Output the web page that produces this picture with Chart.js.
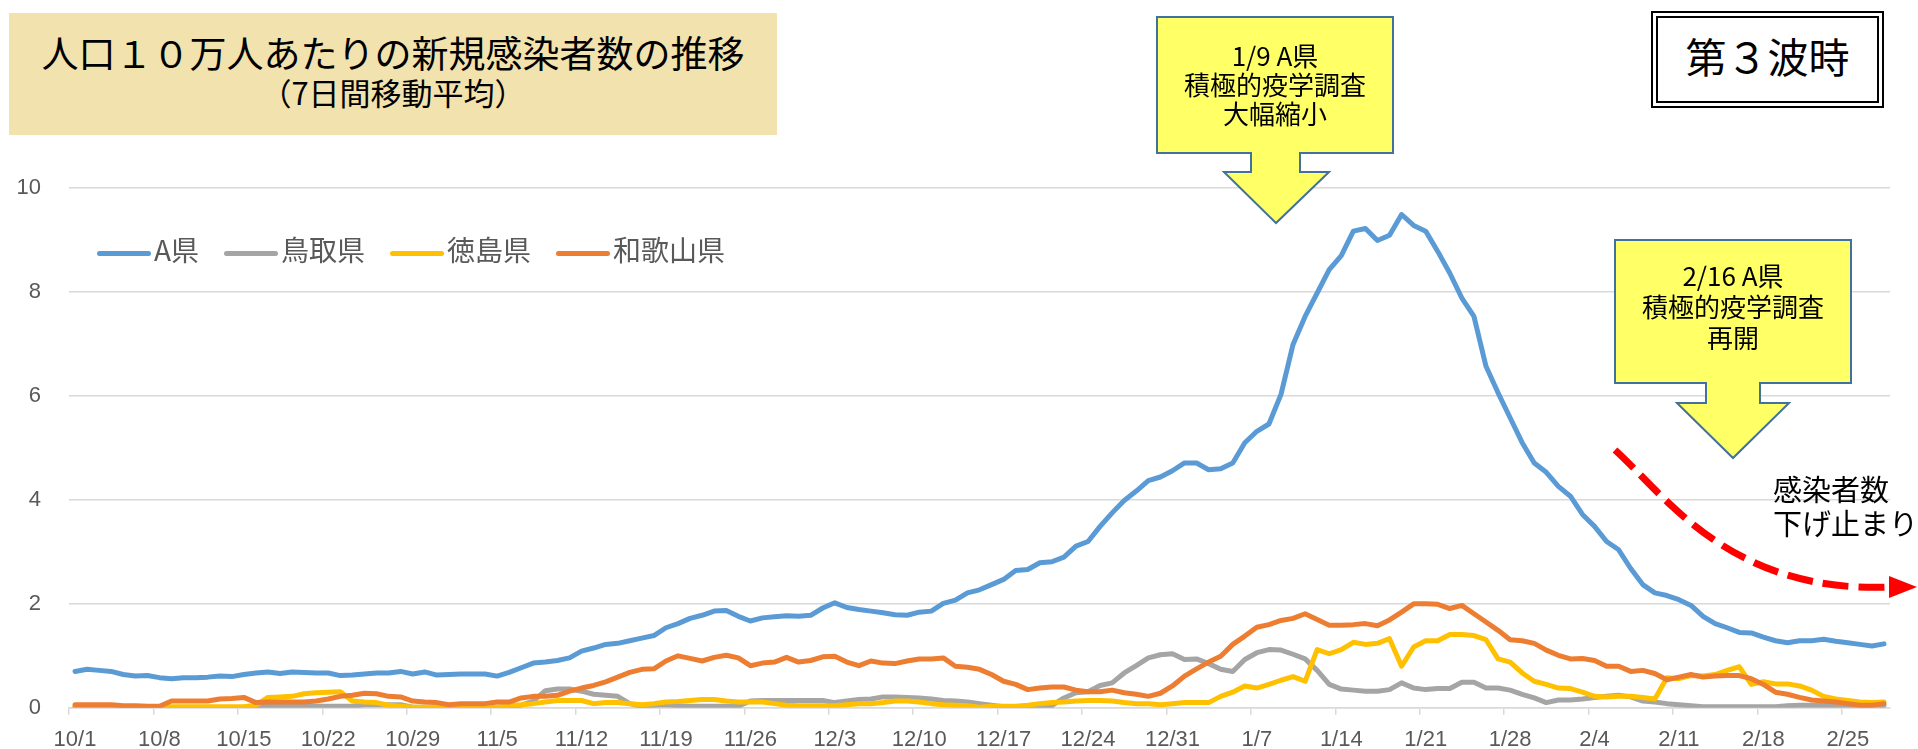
<!DOCTYPE html>
<html lang="ja">
<head>
<meta charset="utf-8">
<title>人口10万人あたりの新規感染者数の推移</title>
<script src="https://cdn.jsdelivr.net/npm/chart.js@4.4.1/dist/chart.umd.min.js"></script>
<style>
  html, body { margin: 0; padding: 0; background: #fff; }
  body { width: 1918px; height: 749px; position: relative; overflow: hidden;
         font-family: "Noto Sans CJK JP", sans-serif; color: #000; }
  #chart { position: absolute; left: 0; top: 0; }
  .abs { position: absolute; }
  #title-box { left: 9px; top: 13px; width: 768px; height: 122px; background: #F2E2AE; }
  #title-box .t1 { position: absolute; left: 0; width: 100%; top: 21px; text-align: center;
                   font-size: 37px; line-height: 37px; }
  #title-box .t2 { position: absolute; left: 0; width: 100%; top: 63px; text-align: center;
                   font-size: 31px; line-height: 31px; }
  #wave-box { left: 1651px; top: 11px; width: 233px; height: 97px; box-sizing: border-box;
              border: 7px double #000; background: #fff; text-align: center;
              font-size: 41px; line-height: 41px; padding-top: 17px; }
  .callout { text-align: center; font-size: 26px; width: 236px; }
  #legend { left: 97px; top: 234px; display: flex; align-items: center; height: 30px; }
  #legend .item { display: flex; align-items: center; margin-right: 25px; }
  #legend .swatch { display: inline-block; width: 54px; height: 5px; border-radius: 3px;
                    margin-right: 3px; position: relative; top: 4px; }
  #legend .name { font-size: 28px; line-height: 30px; color: #595959; }
  #note { left: 1773px; top: 471px; font-size: 29px; line-height: 34px; white-space: nowrap; }
  svg { position: absolute; left: 0; top: 0; }
</style>
</head>
<body>
<canvas id="chart" width="1918" height="749"></canvas>

<svg width="1918" height="749">
  <!-- 1/9 のコールアウト -->
  <polygon points="1157,17 1393,17 1393,153 1300,153 1300,172 1329,172 1276,223 1224,172 1251,172 1251,153 1157,153"
           fill="#FFFF66" stroke="#41719C" stroke-width="2"/>
  <!-- 2/16 のコールアウト -->
  <polygon points="1615,240 1851,240 1851,383 1760,383 1760,403 1789,403 1733,458 1677,403 1706,403 1706,383 1615,383"
           fill="#FFFF66" stroke="#41719C" stroke-width="2"/>
  <!-- 赤い点線の矢印 -->
  <path d="M1615,450 C1665,495 1730,594 1890,587" fill="none" stroke="#FF0000"
        stroke-width="7" stroke-dasharray="26,10"/>
  <polygon points="1889,576 1917,587 1889,598" fill="#FF0000"/>
</svg>

<div id="title-box" class="abs">
  <div class="t1">人口１０万人あたりの新規感染者数の推移</div>
  <div class="t2">（7日間移動平均）</div>
</div>
<div id="wave-box" class="abs">第３波時</div>
<div class="abs callout" style="left:1157px; top:40px; line-height:29px;">1/9 A県<br>積極的疫学調査<br>大幅縮小</div>
<div class="abs callout" style="left:1615px; top:259px; line-height:31px;">2/16 A県<br>積極的疫学調査<br>再開</div>
<div id="note" class="abs">感染者数<br>下げ止まり</div>
<div id="legend" class="abs"></div>

<script>
// 系列名と色
const seriesNames = ['A県', '鳥取県', '徳島県', '和歌山県'];
const seriesColors = ['#5B9BD5', '#A5A5A5', '#FFC000', '#ED7D31'];

// 軸に表示する日付（7日ごと）
const tickLabels = ['10/1', '10/8', '10/15', '10/22', '10/29', '11/5', '11/12', '11/19', '11/26',
  '12/3', '12/10', '12/17', '12/24', '12/31', '1/7', '1/14', '1/21', '1/28', '2/4', '2/11', '2/18', '2/25'];

// 10/1 〜 2/28 の日付（カテゴリ）
const monthDays = [[10, 31], [11, 30], [12, 31], [1, 31], [2, 28]];
const days = [];
monthDays.forEach(([m, n]) => { for (let d = 1; d <= n; d++) days.push(m + '/' + d); });

// 人口10万人あたり新規感染者数（7日間移動平均）
const prefA = [
  0.70, 0.74, 0.72, 0.70, 0.64, 0.61, 0.62, 0.58, 0.56, 0.58,
  0.58, 0.59, 0.61, 0.60, 0.64, 0.67, 0.69, 0.66, 0.69, 0.68,
  0.67, 0.67, 0.62, 0.63, 0.65, 0.67, 0.67, 0.70, 0.65, 0.69,
  0.63, 0.64, 0.65, 0.65, 0.65, 0.61, 0.68, 0.77, 0.86, 0.88,
  0.91, 0.96, 1.09, 1.15, 1.22, 1.24, 1.29, 1.34, 1.39, 1.54,
  1.62, 1.72, 1.78, 1.86, 1.87, 1.76, 1.67, 1.73, 1.75, 1.77,
  1.76, 1.78, 1.92, 2.02, 1.93, 1.89, 1.86, 1.83, 1.79, 1.78,
  1.84, 1.86, 2.01, 2.07, 2.21, 2.27, 2.37, 2.47, 2.64, 2.66,
  2.79, 2.81, 2.90, 3.11, 3.20, 3.49, 3.75, 3.99, 4.17, 4.37,
  4.44, 4.56, 4.71, 4.71, 4.58, 4.60, 4.71, 5.10, 5.32, 5.46,
  6.03, 6.99, 7.53, 7.98, 8.43, 8.70, 9.17, 9.22, 8.99, 9.09,
  9.49, 9.28, 9.17, 8.78, 8.36, 7.88, 7.53, 6.57, 6.06, 5.58,
  5.10, 4.71, 4.53, 4.26, 4.07, 3.72, 3.49, 3.20, 3.04, 2.68,
  2.37, 2.21, 2.16, 2.08, 1.97, 1.76, 1.62, 1.54, 1.45, 1.44,
  1.36, 1.29, 1.25, 1.29, 1.29, 1.32, 1.28, 1.25, 1.22, 1.19,
  1.23
];
const tottori = [
  0.02, 0.02, 0.02, 0.02, 0.02, 0.02, 0.02, 0.02, 0.00, 0.00,
  0.00, 0.00, 0.00, 0.00, 0.00, 0.03, 0.03, 0.03, 0.03, 0.03,
  0.03, 0.03, 0.03, 0.03, 0.06, 0.06, 0.06, 0.06, 0.01, 0.01,
  0.01, 0.01, 0.01, 0.01, 0.01, 0.01, 0.03, 0.05, 0.13, 0.33,
  0.36, 0.36, 0.32, 0.26, 0.24, 0.22, 0.08, 0.03, 0.05, 0.06,
  0.04, 0.03, 0.03, 0.03, 0.03, 0.03, 0.13, 0.14, 0.14, 0.14,
  0.14, 0.14, 0.14, 0.10, 0.13, 0.16, 0.17, 0.21, 0.21, 0.20,
  0.19, 0.17, 0.14, 0.13, 0.11, 0.08, 0.05, 0.02, 0.02, 0.02,
  0.02, 0.04, 0.19, 0.29, 0.31, 0.43, 0.48, 0.67, 0.81, 0.96,
  1.02, 1.04, 0.93, 0.94, 0.85, 0.74, 0.70, 0.93, 1.06, 1.12,
  1.11, 1.03, 0.94, 0.72, 0.45, 0.36, 0.34, 0.32, 0.32, 0.35,
  0.48, 0.38, 0.35, 0.37, 0.37, 0.49, 0.49, 0.38, 0.38, 0.34,
  0.26, 0.19, 0.10, 0.15, 0.15, 0.17, 0.20, 0.22, 0.24, 0.21,
  0.13, 0.11, 0.08, 0.06, 0.04, 0.02, 0.02, 0.02, 0.02, 0.02,
  0.02, 0.02, 0.04, 0.05, 0.05, 0.05, 0.05, 0.05, 0.05, 0.05,
  0.05
];
const tokushima = [
  0.02, 0.02, 0.02, 0.02, 0.02, 0.02, 0.02, 0.02, 0.02, 0.02,
  0.02, 0.02, 0.02, 0.02, 0.02, 0.05, 0.20, 0.21, 0.22, 0.27,
  0.29, 0.30, 0.31, 0.13, 0.11, 0.10, 0.05, 0.03, 0.01, 0.01,
  0.01, 0.01, 0.01, 0.01, 0.01, 0.01, 0.05, 0.06, 0.08, 0.11,
  0.14, 0.14, 0.14, 0.08, 0.10, 0.10, 0.08, 0.06, 0.08, 0.11,
  0.12, 0.14, 0.16, 0.16, 0.13, 0.11, 0.11, 0.11, 0.08, 0.05,
  0.04, 0.04, 0.04, 0.04, 0.06, 0.08, 0.08, 0.10, 0.13, 0.13,
  0.11, 0.08, 0.06, 0.05, 0.04, 0.01, 0.03, 0.03, 0.03, 0.05,
  0.08, 0.10, 0.11, 0.13, 0.14, 0.14, 0.13, 0.10, 0.08, 0.08,
  0.06, 0.08, 0.10, 0.10, 0.10, 0.22, 0.30, 0.42, 0.38, 0.45,
  0.53, 0.60, 0.51, 1.12, 1.04, 1.12, 1.26, 1.22, 1.24, 1.33,
  0.80, 1.17, 1.29, 1.29, 1.41, 1.41, 1.39, 1.31, 0.94, 0.88,
  0.67, 0.51, 0.45, 0.38, 0.37, 0.30, 0.22, 0.21, 0.22, 0.22,
  0.20, 0.17, 0.58, 0.56, 0.62, 0.61, 0.64, 0.72, 0.79, 0.45,
  0.50, 0.46, 0.46, 0.42, 0.34, 0.22, 0.17, 0.14, 0.11, 0.10,
  0.11
];
const wakayama = [
  0.06, 0.06, 0.06, 0.06, 0.04, 0.04, 0.03, 0.03, 0.13, 0.13,
  0.13, 0.13, 0.17, 0.18, 0.20, 0.10, 0.11, 0.11, 0.11, 0.11,
  0.13, 0.17, 0.22, 0.24, 0.28, 0.27, 0.22, 0.21, 0.13, 0.11,
  0.10, 0.06, 0.08, 0.08, 0.08, 0.11, 0.11, 0.19, 0.22, 0.22,
  0.24, 0.32, 0.38, 0.43, 0.50, 0.59, 0.68, 0.74, 0.75, 0.90,
  1.00, 0.95, 0.90, 0.97, 1.01, 0.96, 0.81, 0.86, 0.88, 0.97,
  0.88, 0.91, 0.98, 0.99, 0.88, 0.81, 0.90, 0.86, 0.85, 0.90,
  0.94, 0.94, 0.96, 0.80, 0.78, 0.74, 0.64, 0.51, 0.45, 0.35,
  0.38, 0.40, 0.40, 0.34, 0.31, 0.31, 0.34, 0.29, 0.26, 0.22,
  0.28, 0.42, 0.61, 0.75, 0.88, 0.99, 1.22, 1.38, 1.55, 1.60,
  1.68, 1.72, 1.81, 1.70, 1.59, 1.59, 1.60, 1.62, 1.58, 1.69,
  1.84, 2.00, 2.00, 1.99, 1.91, 1.97, 1.81, 1.65, 1.49, 1.31,
  1.29, 1.24, 1.11, 1.01, 0.94, 0.95, 0.91, 0.80, 0.80, 0.70,
  0.72, 0.66, 0.54, 0.59, 0.64, 0.59, 0.61, 0.62, 0.62, 0.56,
  0.45, 0.30, 0.26, 0.20, 0.15, 0.13, 0.11, 0.08, 0.05, 0.05,
  0.08
];
const seriesValues = [prefA, tottori, tokushima, wakayama];

// 凡例（グラフ内左上）
const legendEl = document.getElementById('legend');
seriesNames.forEach((name, i) => {
  const item = document.createElement('div');
  item.className = 'item';
  const sw = document.createElement('span');
  sw.className = 'swatch';
  sw.style.background = seriesColors[i];
  const tx = document.createElement('span');
  tx.className = 'name';
  tx.textContent = name;
  item.appendChild(sw);
  item.appendChild(tx);
  legendEl.appendChild(item);
});

const axisFont = { family: "'Liberation Sans', 'Noto Sans', sans-serif", size: 22 };

new Chart(document.getElementById('chart').getContext('2d'), {
  type: 'line',
  data: {
    labels: days,
    datasets: seriesValues.map((vals, i) => ({
      label: seriesNames[i],
      data: vals,
      borderColor: seriesColors[i],
      backgroundColor: seriesColors[i],
      borderWidth: 5,
      pointRadius: 0,
      tension: 0,
      fill: false,
      borderJoinStyle: 'round',
      borderCapStyle: 'round',
      order: seriesNames.length - i   // 後の系列を上に描く
    }))
  },
  options: {
    responsive: false,
    animation: false,
    devicePixelRatio: 1,
    layout: { padding: { top: 188, right: 28, left: 0, bottom: 0 } },
    plugins: { legend: { display: false }, tooltip: { enabled: false } },
    scales: {
      x: {
        type: 'category',
        offset: true,
        grid: {
          offset: true,
          drawOnChartArea: false,
          drawTicks: true,
          tickLength: 7,
          lineWidth: 1.5,
          color: ctx => (ctx.index % 7 === 0 && ctx.index < days.length) ? '#D9D9D9' : 'rgba(0,0,0,0)'
        },
        border: { display: true, color: '#D9D9D9', width: 1.5 },
        ticks: {
          autoSkip: false,
          maxRotation: 0,
          minRotation: 0,
          padding: 12,
          color: '#595959',
          font: axisFont,
          callback: function (value, index) {
            const lbl = days[index];
            return tickLabels.includes(lbl) ? lbl : '';
          }
        },
        afterFit: scale => { scale.height = 41; }
      },
      y: {
        min: 0,
        max: 10,
        grid: { color: '#D9D9D9', lineWidth: 1.5, drawTicks: false },
        border: { display: false },
        ticks: { stepSize: 2, padding: 28, color: '#595959', font: axisFont },
        afterFit: scale => { scale.width = 69; }
      }
    }
  }
});
</script>
</body>
</html>
